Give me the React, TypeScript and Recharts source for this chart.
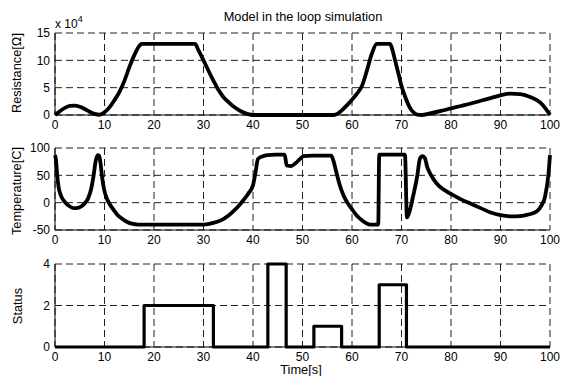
import React from 'react'
import { LineChart, Line, XAxis, YAxis, CartesianGrid } from 'recharts'

// time axis shared by all three panels
const TIME_TICKS = [0, 10, 20, 30, 40, 50, 60, 70, 80, 90, 100]

// resistance, in units of 1e4 ohm
const resTime = [
  0, 1, 2, 3, 4, 5, 6, 7, 8, 9, 10, 11, 12, 13, 14, 15, 16, 17, 17.5, 22, 28.3, 29, 30, 31, 32, 33, 34, 35,
  36, 37, 38, 39, 40, 48, 56, 57, 58, 59, 60, 61, 62, 63, 64, 65, 66.5, 67.7, 68.2, 68.7, 69.4, 70, 70.8,
  71.6, 72.4, 73.2, 74, 76, 78, 80, 82, 84, 86, 88, 90, 92, 94, 96, 98, 99, 100,
]
const resValue = [
  0, 0.7, 1.3, 1.65, 1.7, 1.5, 1.1, 0.6, 0.2, 0.05, 0.5, 1.4, 2.7, 4.2, 6.2, 8.7, 10.9, 12.6, 13, 13, 13, 11.8,
  10, 8.1, 6.3, 4.6, 3.3, 2.4, 1.6, 1.0, 0.5, 0.15, 0, 0, 0, 0.2, 0.9, 1.8, 2.8, 3.9, 5.3, 8.1, 11.2, 13, 13,
  13, 11.8, 10, 7.5, 5.3, 3.2, 1.5, 0.5, 0.05, 0, 0.35, 0.75, 1.2, 1.65, 2.1, 2.6, 3.1, 3.6, 3.9, 3.8, 3.3,
  2.3, 1.3, 0,
]

const tempTime = [
  0, 0.2, 0.4, 0.7, 1.2, 2, 3, 3.8, 4.8, 5.8, 6.7, 7.3, 7.8, 8.2, 8.6, 8.9, 9.2, 9.5, 9.9, 10.4, 11, 12, 12.5,
  13.5, 14.5, 15.5, 16.8, 23, 30, 32, 34, 35, 36, 37, 38, 39, 40, 40.5, 41, 42, 43, 44.5, 46.4, 46.8, 47.7,
  48.7, 49.5, 50.2, 52, 55.8, 56.3, 56.8, 57.6, 58.3, 59, 60, 61, 62, 63, 63.6, 65.3, 65.5, 70.7, 71.1, 71.6,
  72.3, 73.2, 73.7, 74.2, 74.7, 75.2, 75.8, 77.1, 78.5, 80, 82, 84, 86, 88, 90, 92, 94, 95.5, 97.3, 98.3, 99,
  99.7, 100,
]
const tempValue = [
  87, 78, 55, 30, 13, 1, -7, -10, -9, -3, 8, 25, 50, 75, 87, 86, 72, 48, 25, 9, -2, -15, -21, -29, -35, -38.5,
  -40, -40, -40, -37, -30, -24, -16, -7, 4, 16, 32, 55, 80, 85, 87, 88, 88, 68, 67, 73, 80, 85, 86, 86, 75, 57,
  30, 13, 1, -12, -24, -32, -38, -40, -40, 88, 88, -27, -17, 10, 50, 80, 85, 82, 65, 53, 35, 24, 16, 6, -2, -10,
  -18, -23, -25, -24.5, -22, -16, -5, 11, 53, 87,
]

const statusTime = [0, 18, 18, 32, 32, 43, 43, 46.7, 46.7, 52.3, 52.3, 57.9, 57.9, 65.5, 65.5, 71, 71, 100]
const statusValue = [0, 0, 2, 2, 0, 0, 4, 4, 0, 0, 1, 1, 0, 0, 3, 3, 0, 0]

const resTicks = [0, 5, 10, 15]
const tempTicks = [-50, 0, 50, 100]
const statusTicks = [0, 2, 4]

const FONT = '"Liberation Sans", Arial, Helvetica, sans-serif'

type Pt = { t: number; v: number }

function zip(ts: number[], vs: number[]): Pt[] {
  return ts.map((t, i) => ({ t, v: vs[i] }))
}

type PanelProps = {
  data: Pt[]
  top: number // pixel y of plot top
  bottom: number // pixel y of plot bottom
  yTicks: number[]
  curve: 'monotone' | 'linear'
  width: number
}

function Panel({ data, top, bottom, yTicks, curve, width }: PanelProps) {
  const pad = 8
  const h = bottom - top + pad + 20
  return (
    <div style={{ position: 'absolute', left: 0, top: top - pad }}>
      <LineChart
        width={564}
        height={h}
        data={data}
        margin={{ top: pad, right: 14, bottom: 0, left: 0 }}
        style={{ fontFamily: FONT }}
      >
        <CartesianGrid stroke="#222" strokeDasharray="7 4" strokeWidth={1} />
        <XAxis
          dataKey="t"
          type="number"
          domain={[0, 100]}
          ticks={TIME_TICKS}
          height={20}
          tickLine={false}
          tickSize={3}
          tickMargin={2}
          axisLine={{ stroke: '#000' }}
          tick={{ fontSize: 12, fill: '#000' }}
          interval={0}
        />
        <YAxis
          type="number"
          domain={[yTicks[0], yTicks[yTicks.length - 1]]}
          ticks={yTicks}
          width={55}
          tickLine={false}
          tickSize={3}
          tickMargin={2}
          axisLine={{ stroke: '#000' }}
          tick={{ fontSize: 12, fill: '#000' }}
          interval={0}
        />
        <Line
          dataKey="v"
          type={curve}
          stroke="#000"
          strokeWidth={width}
          dot={false}
          strokeLinejoin="round"
          isAnimationActive={false}
        />
      </LineChart>
    </div>
  )
}

function VLabel({ text, cx, cy }: { text: string; cx: number; cy: number }) {
  return (
    <div
      style={{
        position: 'absolute',
        left: cx - 60,
        top: cy - 8,
        width: 120,
        height: 16,
        lineHeight: '16px',
        textAlign: 'center',
        fontSize: 12.8,
        transform: 'rotate(-90deg)',
      }}
    >
      {text}
    </div>
  )
}

export default function App() {
  return (
    <div
      style={{
        position: 'absolute',
        left: 0,
        top: 0,
        width: 564,
        height: 376,
        background: '#fff',
        fontFamily: FONT,
        color: '#000',
      }}
    >
      <Panel data={zip(resTime, resValue)} top={33} bottom={115} yTicks={resTicks} curve="monotone" width={3.8} />
      <Panel data={zip(tempTime, tempValue)} top={148} bottom={230} yTicks={tempTicks} curve="monotone" width={3.8} />
      <Panel data={zip(statusTime, statusValue)} top={264} bottom={347} yTicks={statusTicks} curve="linear" width={3.2} />

      <div
        style={{
          position: 'absolute',
          left: 153,
          width: 300,
          top: 9,
          lineHeight: '16px',
          textAlign: 'center',
          fontSize: 12.8,
        }}
      >
        Model in the loop simulation
      </div>
      <div style={{ position: 'absolute', left: 55, top: 17, fontSize: 12, lineHeight: '14px', whiteSpace: 'nowrap' }}>
        x 10<span style={{ fontSize: 9, position: 'relative', top: -6 }}>4</span>
      </div>

      <VLabel text="Resistance[Ω]" cx={17} cy={73} />
      <VLabel text="Temperature[C]" cx={17} cy={191} />
      <VLabel text="Status" cx={18} cy={306} />

      <div
        style={{
          position: 'absolute',
          left: 251,
          width: 100,
          top: 362,
          lineHeight: '16px',
          textAlign: 'center',
          fontSize: 12.8,
        }}
      >
        Time[s]
      </div>
    </div>
  )
}
